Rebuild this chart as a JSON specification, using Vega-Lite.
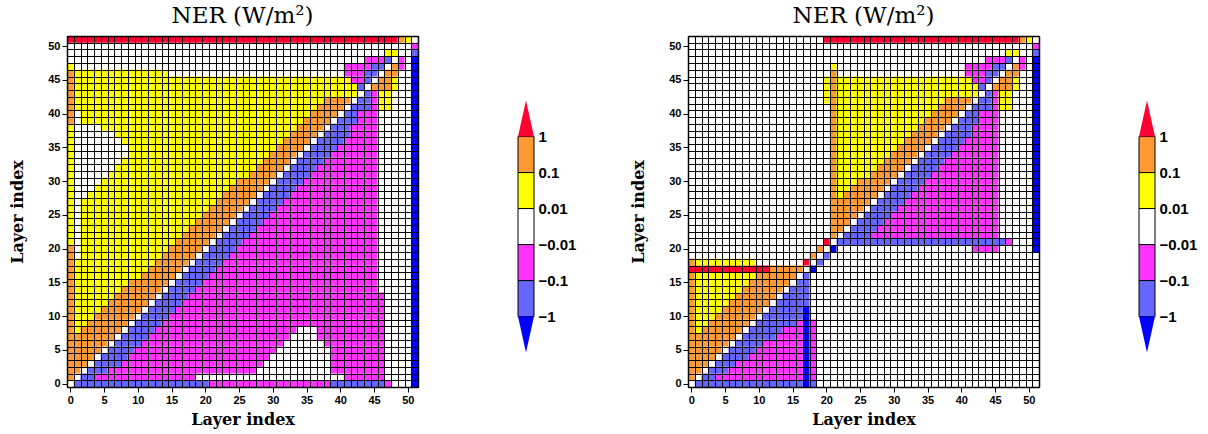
{
"$schema": "https://vega.github.io/schema/vega-lite/v6.json",
"background": "white",
"padding": {"left": 9, "top": 4, "right": 2, "bottom": 2},
"config": {
  "view": {"stroke": null},
  "axis": {"labelFont": "Liberation Sans", "labelFontWeight": "bold", "labelFontSize": 11, "labelColor": "black", "tickColor": "black", "domainColor": "black", "titleFont": "DejaVu Serif", "titleFontWeight": "bold", "titleFontSize": 16, "titleColor": "black", "labelFlush": false},
  "title": {"font": "DejaVu Serif", "fontSize": 23, "fontWeight": "normal", "color": "black"}
},
"datasets": {
"left": [
{"x":0,"x2":0,"y":1,"y2":20,"c":"O"},{"x":0,"x2":0,"y":21,"y2":38,"c":"Y"},{"x":0,"x2":0,"y":39,"y2":46,"c":"O"},{"x":0,"x2":0,"y":47,"y2":47,"c":"Y"},
{"x":51,"x2":51,"y":0,"y2":48,"c":"B"},{"x":51,"x2":51,"y":49,"y2":49,"c":"L"},{"x":51,"x2":51,"y":50,"y2":50,"c":"M"},
{"x":0,"x2":48,"y":51,"y2":51,"c":"R"},{"x":49,"x2":49,"y":51,"y2":51,"c":"O"},{"x":50,"x2":50,"y":51,"y2":51,"c":"Y"},
{"x":39,"x2":46,"y":2,"y2":5,"c":"M"},{"x":37,"x2":46,"y":7,"y2":8,"c":"M"},
{"x":1,"x2":20,"y":0,"y2":0,"c":"L"},{"x":21,"x2":38,"y":0,"y2":0,"c":"M"},{"x":39,"x2":46,"y":0,"y2":0,"c":"L"},{"x":47,"x2":47,"y":0,"y2":0,"c":"M"},
{"x":2,"x2":3,"y":1,"y2":1,"c":"L"},{"x":4,"x2":18,"y":1,"y2":1,"c":"M"},{"x":41,"x2":46,"y":1,"y2":1,"c":"M"},
{"x":1,"x2":1,"y":2,"y2":2,"c":"O"},{"x":3,"x2":5,"y":2,"y2":2,"c":"L"},{"x":6,"x2":27,"y":2,"y2":2,"c":"M"},
{"x":1,"x2":2,"y":3,"y2":3,"c":"O"},{"x":4,"x2":7,"y":3,"y2":3,"c":"L"},{"x":8,"x2":28,"y":3,"y2":3,"c":"M"},
{"x":1,"x2":3,"y":4,"y2":4,"c":"O"},{"x":5,"x2":8,"y":4,"y2":4,"c":"L"},{"x":9,"x2":29,"y":4,"y2":4,"c":"M"},
{"x":1,"x2":4,"y":5,"y2":5,"c":"O"},{"x":6,"x2":9,"y":5,"y2":5,"c":"L"},{"x":10,"x2":30,"y":5,"y2":5,"c":"M"},
{"x":1,"x2":5,"y":6,"y2":6,"c":"O"},{"x":7,"x2":10,"y":6,"y2":6,"c":"L"},{"x":11,"x2":31,"y":6,"y2":6,"c":"M"},{"x":38,"x2":46,"y":6,"y2":6,"c":"M"},
{"x":1,"x2":6,"y":7,"y2":7,"c":"O"},{"x":8,"x2":11,"y":7,"y2":7,"c":"L"},{"x":12,"x2":32,"y":7,"y2":7,"c":"M"},
{"x":1,"x2":1,"y":8,"y2":8,"c":"Y"},{"x":2,"x2":7,"y":8,"y2":8,"c":"O"},{"x":9,"x2":12,"y":8,"y2":8,"c":"L"},{"x":13,"x2":33,"y":8,"y2":8,"c":"M"},
{"x":1,"x2":2,"y":9,"y2":9,"c":"Y"},{"x":3,"x2":8,"y":9,"y2":9,"c":"O"},{"x":10,"x2":13,"y":9,"y2":9,"c":"L"},{"x":14,"x2":46,"y":9,"y2":9,"c":"M"},
{"x":1,"x2":3,"y":10,"y2":10,"c":"Y"},{"x":4,"x2":9,"y":10,"y2":10,"c":"O"},{"x":11,"x2":14,"y":10,"y2":10,"c":"L"},{"x":15,"x2":46,"y":10,"y2":10,"c":"M"},
{"x":1,"x2":4,"y":11,"y2":11,"c":"Y"},{"x":5,"x2":10,"y":11,"y2":11,"c":"O"},{"x":12,"x2":15,"y":11,"y2":11,"c":"L"},{"x":16,"x2":46,"y":11,"y2":11,"c":"M"},
{"x":1,"x2":5,"y":12,"y2":12,"c":"Y"},{"x":6,"x2":11,"y":12,"y2":12,"c":"O"},{"x":13,"x2":16,"y":12,"y2":12,"c":"L"},{"x":17,"x2":46,"y":12,"y2":12,"c":"M"},
{"x":1,"x2":6,"y":13,"y2":13,"c":"Y"},{"x":7,"x2":12,"y":13,"y2":13,"c":"O"},{"x":14,"x2":17,"y":13,"y2":13,"c":"L"},{"x":18,"x2":46,"y":13,"y2":13,"c":"M"},
{"x":1,"x2":7,"y":14,"y2":14,"c":"Y"},{"x":8,"x2":13,"y":14,"y2":14,"c":"O"},{"x":15,"x2":18,"y":14,"y2":14,"c":"L"},{"x":19,"x2":45,"y":14,"y2":14,"c":"M"},
{"x":1,"x2":8,"y":15,"y2":15,"c":"Y"},{"x":9,"x2":14,"y":15,"y2":15,"c":"O"},{"x":16,"x2":19,"y":15,"y2":15,"c":"L"},{"x":20,"x2":45,"y":15,"y2":15,"c":"M"},
{"x":1,"x2":10,"y":16,"y2":16,"c":"Y"},{"x":11,"x2":15,"y":16,"y2":16,"c":"O"},{"x":17,"x2":20,"y":16,"y2":16,"c":"L"},{"x":21,"x2":45,"y":16,"y2":16,"c":"M"},
{"x":1,"x2":11,"y":17,"y2":17,"c":"Y"},{"x":12,"x2":16,"y":17,"y2":17,"c":"O"},{"x":18,"x2":21,"y":17,"y2":17,"c":"L"},{"x":22,"x2":45,"y":17,"y2":17,"c":"M"},
{"x":1,"x2":12,"y":18,"y2":18,"c":"Y"},{"x":13,"x2":17,"y":18,"y2":18,"c":"O"},{"x":19,"x2":22,"y":18,"y2":18,"c":"L"},{"x":23,"x2":45,"y":18,"y2":18,"c":"M"},
{"x":2,"x2":13,"y":19,"y2":19,"c":"Y"},{"x":14,"x2":18,"y":19,"y2":19,"c":"O"},{"x":20,"x2":23,"y":19,"y2":19,"c":"L"},{"x":24,"x2":45,"y":19,"y2":19,"c":"M"},
{"x":2,"x2":14,"y":20,"y2":20,"c":"Y"},{"x":15,"x2":19,"y":20,"y2":20,"c":"O"},{"x":21,"x2":24,"y":20,"y2":20,"c":"L"},{"x":25,"x2":45,"y":20,"y2":20,"c":"M"},
{"x":2,"x2":15,"y":21,"y2":21,"c":"Y"},{"x":16,"x2":20,"y":21,"y2":21,"c":"O"},{"x":22,"x2":25,"y":21,"y2":21,"c":"L"},{"x":26,"x2":45,"y":21,"y2":21,"c":"M"},
{"x":2,"x2":16,"y":22,"y2":22,"c":"Y"},{"x":17,"x2":21,"y":22,"y2":22,"c":"O"},{"x":23,"x2":26,"y":22,"y2":22,"c":"L"},{"x":27,"x2":45,"y":22,"y2":22,"c":"M"},
{"x":2,"x2":17,"y":23,"y2":23,"c":"Y"},{"x":18,"x2":22,"y":23,"y2":23,"c":"O"},{"x":24,"x2":27,"y":23,"y2":23,"c":"L"},{"x":28,"x2":45,"y":23,"y2":23,"c":"M"},
{"x":2,"x2":18,"y":24,"y2":24,"c":"Y"},{"x":19,"x2":23,"y":24,"y2":24,"c":"O"},{"x":25,"x2":28,"y":24,"y2":24,"c":"L"},{"x":29,"x2":45,"y":24,"y2":24,"c":"M"},
{"x":2,"x2":19,"y":25,"y2":25,"c":"Y"},{"x":20,"x2":24,"y":25,"y2":25,"c":"O"},{"x":26,"x2":29,"y":25,"y2":25,"c":"L"},{"x":30,"x2":45,"y":25,"y2":25,"c":"M"},
{"x":2,"x2":20,"y":26,"y2":26,"c":"Y"},{"x":21,"x2":25,"y":26,"y2":26,"c":"O"},{"x":27,"x2":30,"y":26,"y2":26,"c":"L"},{"x":31,"x2":45,"y":26,"y2":26,"c":"M"},
{"x":2,"x2":21,"y":27,"y2":27,"c":"Y"},{"x":22,"x2":26,"y":27,"y2":27,"c":"O"},{"x":28,"x2":31,"y":27,"y2":27,"c":"L"},{"x":32,"x2":45,"y":27,"y2":27,"c":"M"},
{"x":3,"x2":22,"y":28,"y2":28,"c":"Y"},{"x":23,"x2":27,"y":28,"y2":28,"c":"O"},{"x":29,"x2":32,"y":28,"y2":28,"c":"L"},{"x":33,"x2":45,"y":28,"y2":28,"c":"M"},
{"x":4,"x2":23,"y":29,"y2":29,"c":"Y"},{"x":24,"x2":28,"y":29,"y2":29,"c":"O"},{"x":30,"x2":33,"y":29,"y2":29,"c":"L"},{"x":34,"x2":45,"y":29,"y2":29,"c":"M"},
{"x":5,"x2":24,"y":30,"y2":30,"c":"Y"},{"x":25,"x2":29,"y":30,"y2":30,"c":"O"},{"x":31,"x2":34,"y":30,"y2":30,"c":"L"},{"x":35,"x2":45,"y":30,"y2":30,"c":"M"},
{"x":6,"x2":26,"y":31,"y2":31,"c":"Y"},{"x":27,"x2":30,"y":31,"y2":31,"c":"O"},{"x":32,"x2":35,"y":31,"y2":31,"c":"L"},{"x":36,"x2":45,"y":31,"y2":31,"c":"M"},
{"x":7,"x2":27,"y":32,"y2":32,"c":"Y"},{"x":28,"x2":31,"y":32,"y2":32,"c":"O"},{"x":33,"x2":36,"y":32,"y2":32,"c":"L"},{"x":37,"x2":45,"y":32,"y2":32,"c":"M"},
{"x":8,"x2":28,"y":33,"y2":33,"c":"Y"},{"x":29,"x2":32,"y":33,"y2":33,"c":"O"},{"x":34,"x2":37,"y":33,"y2":33,"c":"L"},{"x":38,"x2":45,"y":33,"y2":33,"c":"M"},
{"x":9,"x2":29,"y":34,"y2":34,"c":"Y"},{"x":30,"x2":33,"y":34,"y2":34,"c":"O"},{"x":35,"x2":38,"y":34,"y2":34,"c":"L"},{"x":39,"x2":45,"y":34,"y2":34,"c":"M"},
{"x":9,"x2":30,"y":35,"y2":35,"c":"Y"},{"x":31,"x2":34,"y":35,"y2":35,"c":"O"},{"x":36,"x2":39,"y":35,"y2":35,"c":"L"},{"x":40,"x2":45,"y":35,"y2":35,"c":"M"},
{"x":8,"x2":31,"y":36,"y2":36,"c":"Y"},{"x":32,"x2":35,"y":36,"y2":36,"c":"O"},{"x":37,"x2":40,"y":36,"y2":36,"c":"L"},{"x":41,"x2":45,"y":36,"y2":36,"c":"M"},
{"x":7,"x2":32,"y":37,"y2":37,"c":"Y"},{"x":33,"x2":36,"y":37,"y2":37,"c":"O"},{"x":38,"x2":41,"y":37,"y2":37,"c":"L"},{"x":42,"x2":45,"y":37,"y2":37,"c":"M"},
{"x":5,"x2":33,"y":38,"y2":38,"c":"Y"},{"x":34,"x2":37,"y":38,"y2":38,"c":"O"},{"x":39,"x2":41,"y":38,"y2":38,"c":"L"},{"x":42,"x2":45,"y":38,"y2":38,"c":"M"},
{"x":2,"x2":34,"y":39,"y2":39,"c":"Y"},{"x":35,"x2":38,"y":39,"y2":39,"c":"O"},{"x":40,"x2":42,"y":39,"y2":39,"c":"L"},{"x":43,"x2":45,"y":39,"y2":39,"c":"M"},
{"x":2,"x2":35,"y":40,"y2":40,"c":"Y"},{"x":36,"x2":39,"y":40,"y2":40,"c":"O"},{"x":41,"x2":42,"y":40,"y2":40,"c":"L"},{"x":43,"x2":45,"y":40,"y2":40,"c":"M"},
{"x":1,"x2":36,"y":41,"y2":41,"c":"Y"},{"x":37,"x2":40,"y":41,"y2":41,"c":"O"},{"x":42,"x2":44,"y":41,"y2":41,"c":"L"},{"x":45,"x2":45,"y":41,"y2":41,"c":"M"},{"x":46,"x2":47,"y":41,"y2":41,"c":"Y"},
{"x":1,"x2":37,"y":42,"y2":42,"c":"Y"},{"x":38,"x2":41,"y":42,"y2":42,"c":"O"},{"x":43,"x2":44,"y":42,"y2":42,"c":"L"},{"x":45,"x2":45,"y":42,"y2":42,"c":"M"},{"x":46,"x2":47,"y":42,"y2":42,"c":"Y"},
{"x":1,"x2":42,"y":43,"y2":43,"c":"Y"},{"x":44,"x2":44,"y":43,"y2":43,"c":"L"},{"x":45,"x2":45,"y":43,"y2":43,"c":"M"},{"x":46,"x2":47,"y":43,"y2":43,"c":"Y"},
{"x":1,"x2":42,"y":44,"y2":44,"c":"Y"},{"x":43,"x2":43,"y":44,"y2":44,"c":"L"},{"x":45,"x2":47,"y":44,"y2":44,"c":"O"},{"x":48,"x2":48,"y":44,"y2":44,"c":"Y"},
{"x":1,"x2":41,"y":45,"y2":45,"c":"Y"},{"x":42,"x2":43,"y":45,"y2":45,"c":"M"},{"x":44,"x2":44,"y":45,"y2":45,"c":"L"},{"x":46,"x2":47,"y":45,"y2":45,"c":"O"},{"x":48,"x2":48,"y":45,"y2":45,"c":"Y"},
{"x":1,"x2":14,"y":46,"y2":46,"c":"Y"},{"x":41,"x2":43,"y":46,"y2":46,"c":"M"},{"x":44,"x2":45,"y":46,"y2":46,"c":"L"},{"x":47,"x2":48,"y":46,"y2":46,"c":"O"},
{"x":41,"x2":44,"y":47,"y2":47,"c":"M"},{"x":45,"x2":46,"y":47,"y2":47,"c":"L"},{"x":48,"x2":48,"y":47,"y2":47,"c":"O"},{"x":49,"x2":49,"y":47,"y2":47,"c":"M"},
{"x":44,"x2":46,"y":48,"y2":48,"c":"M"},{"x":47,"x2":47,"y":48,"y2":48,"c":"L"},{"x":49,"x2":49,"y":48,"y2":48,"c":"M"},
{"x":47,"x2":48,"y":49,"y2":49,"c":"Y"}
],
"right": [
{"x":51,"x2":51,"y":20,"y2":48,"c":"B"},{"x":51,"x2":51,"y":49,"y2":49,"c":"L"},{"x":51,"x2":51,"y":50,"y2":50,"c":"M"},
{"x":20,"x2":48,"y":51,"y2":51,"c":"R"},{"x":49,"x2":49,"y":51,"y2":51,"c":"O"},{"x":50,"x2":50,"y":51,"y2":51,"c":"Y"},
{"x":21,"x2":21,"y":22,"y2":46,"c":"O"},{"x":21,"x2":21,"y":47,"y2":47,"c":"Y"},{"x":20,"x2":20,"y":42,"y2":45,"c":"Y"},
{"x":0,"x2":0,"y":1,"y2":16,"c":"O"},{"x":17,"x2":17,"y":0,"y2":11,"c":"B"},{"x":17,"x2":17,"y":12,"y2":16,"c":"L"},{"x":18,"x2":18,"y":1,"y2":9,"c":"M"},
{"x":1,"x2":16,"y":0,"y2":0,"c":"L"},{"x":18,"x2":18,"y":0,"y2":0,"c":"L"},
{"x":2,"x2":3,"y":1,"y2":1,"c":"L"},{"x":4,"x2":16,"y":1,"y2":1,"c":"M"},
{"x":1,"x2":1,"y":2,"y2":2,"c":"O"},{"x":3,"x2":5,"y":2,"y2":2,"c":"L"},{"x":6,"x2":16,"y":2,"y2":2,"c":"M"},
{"x":1,"x2":2,"y":3,"y2":3,"c":"O"},{"x":4,"x2":6,"y":3,"y2":3,"c":"L"},{"x":7,"x2":16,"y":3,"y2":3,"c":"M"},
{"x":1,"x2":3,"y":4,"y2":4,"c":"O"},{"x":5,"x2":8,"y":4,"y2":4,"c":"L"},{"x":9,"x2":16,"y":4,"y2":4,"c":"M"},
{"x":1,"x2":4,"y":5,"y2":5,"c":"O"},{"x":6,"x2":9,"y":5,"y2":5,"c":"L"},{"x":10,"x2":16,"y":5,"y2":5,"c":"M"},
{"x":1,"x2":5,"y":6,"y2":6,"c":"O"},{"x":7,"x2":10,"y":6,"y2":6,"c":"L"},{"x":11,"x2":16,"y":6,"y2":6,"c":"M"},
{"x":1,"x2":6,"y":7,"y2":7,"c":"O"},{"x":8,"x2":12,"y":7,"y2":7,"c":"L"},{"x":13,"x2":16,"y":7,"y2":7,"c":"M"},
{"x":1,"x2":1,"y":8,"y2":8,"c":"Y"},{"x":2,"x2":7,"y":8,"y2":8,"c":"O"},{"x":9,"x2":13,"y":8,"y2":8,"c":"L"},{"x":14,"x2":16,"y":8,"y2":8,"c":"M"},
{"x":1,"x2":2,"y":9,"y2":9,"c":"Y"},{"x":3,"x2":8,"y":9,"y2":9,"c":"O"},{"x":10,"x2":15,"y":9,"y2":9,"c":"L"},{"x":16,"x2":16,"y":9,"y2":9,"c":"M"},
{"x":1,"x2":3,"y":10,"y2":10,"c":"Y"},{"x":4,"x2":9,"y":10,"y2":10,"c":"O"},{"x":11,"x2":16,"y":10,"y2":10,"c":"L"},
{"x":1,"x2":4,"y":11,"y2":11,"c":"Y"},{"x":5,"x2":10,"y":11,"y2":11,"c":"O"},{"x":12,"x2":16,"y":11,"y2":11,"c":"L"},
{"x":1,"x2":5,"y":12,"y2":12,"c":"Y"},{"x":6,"x2":11,"y":12,"y2":12,"c":"O"},{"x":13,"x2":16,"y":12,"y2":12,"c":"L"},
{"x":1,"x2":6,"y":13,"y2":13,"c":"Y"},{"x":7,"x2":12,"y":13,"y2":13,"c":"O"},{"x":14,"x2":16,"y":13,"y2":13,"c":"L"},
{"x":1,"x2":7,"y":14,"y2":14,"c":"Y"},{"x":8,"x2":13,"y":14,"y2":14,"c":"O"},{"x":15,"x2":16,"y":14,"y2":14,"c":"L"},
{"x":1,"x2":8,"y":15,"y2":15,"c":"Y"},{"x":9,"x2":14,"y":15,"y2":15,"c":"O"},{"x":16,"x2":16,"y":15,"y2":15,"c":"L"},
{"x":1,"x2":9,"y":16,"y2":16,"c":"Y"},{"x":10,"x2":15,"y":16,"y2":16,"c":"O"},
{"x":0,"x2":11,"y":17,"y2":17,"c":"R"},{"x":12,"x2":16,"y":17,"y2":17,"c":"O"},{"x":18,"x2":18,"y":17,"y2":17,"c":"B"},
{"x":0,"x2":0,"y":18,"y2":18,"c":"O"},{"x":1,"x2":9,"y":18,"y2":18,"c":"Y"},{"x":17,"x2":17,"y":18,"y2":18,"c":"R"},{"x":19,"x2":19,"y":18,"y2":18,"c":"L"},
{"x":18,"x2":18,"y":19,"y2":19,"c":"O"},{"x":20,"x2":20,"y":19,"y2":19,"c":"L"},
{"x":19,"x2":19,"y":20,"y2":20,"c":"O"},{"x":21,"x2":21,"y":20,"y2":20,"c":"B"},{"x":42,"x2":45,"y":20,"y2":20,"c":"M"},
{"x":20,"x2":20,"y":21,"y2":21,"c":"R"},{"x":22,"x2":46,"y":21,"y2":21,"c":"L"},{"x":47,"x2":47,"y":21,"y2":21,"c":"M"},
{"x":23,"x2":26,"y":22,"y2":22,"c":"L"},{"x":27,"x2":45,"y":22,"y2":22,"c":"M"},
{"x":22,"x2":22,"y":23,"y2":23,"c":"O"},{"x":24,"x2":27,"y":23,"y2":23,"c":"L"},{"x":28,"x2":45,"y":23,"y2":23,"c":"M"},
{"x":22,"x2":23,"y":24,"y2":24,"c":"O"},{"x":25,"x2":28,"y":24,"y2":24,"c":"L"},{"x":29,"x2":45,"y":24,"y2":24,"c":"M"},
{"x":22,"x2":24,"y":25,"y2":25,"c":"O"},{"x":26,"x2":29,"y":25,"y2":25,"c":"L"},{"x":30,"x2":45,"y":25,"y2":25,"c":"M"},
{"x":22,"x2":25,"y":26,"y2":26,"c":"O"},{"x":27,"x2":30,"y":26,"y2":26,"c":"L"},{"x":31,"x2":45,"y":26,"y2":26,"c":"M"},
{"x":22,"x2":26,"y":27,"y2":27,"c":"O"},{"x":28,"x2":31,"y":27,"y2":27,"c":"L"},{"x":32,"x2":45,"y":27,"y2":27,"c":"M"},
{"x":22,"x2":22,"y":28,"y2":28,"c":"Y"},{"x":23,"x2":27,"y":28,"y2":28,"c":"O"},{"x":29,"x2":32,"y":28,"y2":28,"c":"L"},{"x":33,"x2":45,"y":28,"y2":28,"c":"M"},
{"x":22,"x2":23,"y":29,"y2":29,"c":"Y"},{"x":24,"x2":28,"y":29,"y2":29,"c":"O"},{"x":30,"x2":33,"y":29,"y2":29,"c":"L"},{"x":34,"x2":45,"y":29,"y2":29,"c":"M"},
{"x":22,"x2":24,"y":30,"y2":30,"c":"Y"},{"x":25,"x2":29,"y":30,"y2":30,"c":"O"},{"x":31,"x2":34,"y":30,"y2":30,"c":"L"},{"x":35,"x2":45,"y":30,"y2":30,"c":"M"},
{"x":22,"x2":26,"y":31,"y2":31,"c":"Y"},{"x":27,"x2":30,"y":31,"y2":31,"c":"O"},{"x":32,"x2":35,"y":31,"y2":31,"c":"L"},{"x":36,"x2":45,"y":31,"y2":31,"c":"M"},
{"x":22,"x2":27,"y":32,"y2":32,"c":"Y"},{"x":28,"x2":31,"y":32,"y2":32,"c":"O"},{"x":33,"x2":36,"y":32,"y2":32,"c":"L"},{"x":37,"x2":45,"y":32,"y2":32,"c":"M"},
{"x":22,"x2":28,"y":33,"y2":33,"c":"Y"},{"x":29,"x2":32,"y":33,"y2":33,"c":"O"},{"x":34,"x2":37,"y":33,"y2":33,"c":"L"},{"x":38,"x2":45,"y":33,"y2":33,"c":"M"},
{"x":22,"x2":29,"y":34,"y2":34,"c":"Y"},{"x":30,"x2":33,"y":34,"y2":34,"c":"O"},{"x":35,"x2":38,"y":34,"y2":34,"c":"L"},{"x":39,"x2":45,"y":34,"y2":34,"c":"M"},
{"x":22,"x2":30,"y":35,"y2":35,"c":"Y"},{"x":31,"x2":34,"y":35,"y2":35,"c":"O"},{"x":36,"x2":39,"y":35,"y2":35,"c":"L"},{"x":40,"x2":45,"y":35,"y2":35,"c":"M"},
{"x":22,"x2":31,"y":36,"y2":36,"c":"Y"},{"x":32,"x2":35,"y":36,"y2":36,"c":"O"},{"x":37,"x2":40,"y":36,"y2":36,"c":"L"},{"x":41,"x2":45,"y":36,"y2":36,"c":"M"},
{"x":22,"x2":32,"y":37,"y2":37,"c":"Y"},{"x":33,"x2":36,"y":37,"y2":37,"c":"O"},{"x":38,"x2":41,"y":37,"y2":37,"c":"L"},{"x":42,"x2":45,"y":37,"y2":37,"c":"M"},
{"x":22,"x2":33,"y":38,"y2":38,"c":"Y"},{"x":34,"x2":37,"y":38,"y2":38,"c":"O"},{"x":39,"x2":41,"y":38,"y2":38,"c":"L"},{"x":42,"x2":45,"y":38,"y2":38,"c":"M"},
{"x":22,"x2":34,"y":39,"y2":39,"c":"Y"},{"x":35,"x2":38,"y":39,"y2":39,"c":"O"},{"x":40,"x2":42,"y":39,"y2":39,"c":"L"},{"x":43,"x2":45,"y":39,"y2":39,"c":"M"},
{"x":22,"x2":35,"y":40,"y2":40,"c":"Y"},{"x":36,"x2":39,"y":40,"y2":40,"c":"O"},{"x":41,"x2":42,"y":40,"y2":40,"c":"L"},{"x":43,"x2":45,"y":40,"y2":40,"c":"M"},
{"x":22,"x2":36,"y":41,"y2":41,"c":"Y"},{"x":37,"x2":40,"y":41,"y2":41,"c":"O"},{"x":42,"x2":44,"y":41,"y2":41,"c":"L"},{"x":45,"x2":45,"y":41,"y2":41,"c":"M"},{"x":46,"x2":47,"y":41,"y2":41,"c":"Y"},
{"x":22,"x2":37,"y":42,"y2":42,"c":"Y"},{"x":38,"x2":41,"y":42,"y2":42,"c":"O"},{"x":43,"x2":44,"y":42,"y2":42,"c":"L"},{"x":45,"x2":45,"y":42,"y2":42,"c":"M"},{"x":46,"x2":47,"y":42,"y2":42,"c":"Y"},
{"x":22,"x2":42,"y":43,"y2":43,"c":"Y"},{"x":44,"x2":44,"y":43,"y2":43,"c":"L"},{"x":45,"x2":45,"y":43,"y2":43,"c":"M"},{"x":46,"x2":47,"y":43,"y2":43,"c":"Y"},
{"x":22,"x2":42,"y":44,"y2":44,"c":"Y"},{"x":43,"x2":43,"y":44,"y2":44,"c":"L"},{"x":45,"x2":47,"y":44,"y2":44,"c":"O"},{"x":48,"x2":48,"y":44,"y2":44,"c":"Y"},
{"x":22,"x2":41,"y":45,"y2":45,"c":"Y"},{"x":42,"x2":43,"y":45,"y2":45,"c":"M"},{"x":44,"x2":44,"y":45,"y2":45,"c":"L"},{"x":46,"x2":47,"y":45,"y2":45,"c":"O"},{"x":48,"x2":48,"y":45,"y2":45,"c":"Y"},
{"x":41,"x2":43,"y":46,"y2":46,"c":"M"},{"x":44,"x2":45,"y":46,"y2":46,"c":"L"},{"x":47,"x2":48,"y":46,"y2":46,"c":"O"},
{"x":41,"x2":44,"y":47,"y2":47,"c":"M"},{"x":45,"x2":46,"y":47,"y2":47,"c":"L"},{"x":48,"x2":48,"y":47,"y2":47,"c":"O"},{"x":49,"x2":49,"y":47,"y2":47,"c":"M"},
{"x":44,"x2":46,"y":48,"y2":48,"c":"M"},{"x":47,"x2":47,"y":48,"y2":48,"c":"L"},{"x":49,"x2":49,"y":48,"y2":48,"c":"M"},
{"x":47,"x2":48,"y":49,"y2":49,"c":"Y"}
],
"bar": [{"c":"R"},{"c":"O"},{"c":"Y"},{"c":"W"},{"c":"M"},{"c":"L"},{"c":"B"}]
},
"hconcat": [
{"spacing": 99, "hconcat": [
 {"width": 351, "height": 351,
  "title": {"text": "NER (W/m²)", "frame": "group", "anchor": "middle", "offset": 8.5},
  "data": {"name": "left"},
  "layer": [
   {"mark": {"type": "rect", "xOffset": -3.375, "x2Offset": 3.375, "yOffset": 3.375, "y2Offset": -3.375},
    "encoding": {
     "x": {"field": "x", "type": "quantitative", "scale": {"domain": [-0.5, 51.5], "nice": false, "zero": false},
           "axis": {"values": [0,5,10,15,20,25,30,35,40,45,50], "title": "Layer index", "grid": false, "tickSize": 5, "labelPadding": 2, "titlePadding": 6, "domainWidth": 1.5, "zindex": 1}},
     "x2": {"field": "x2"},
     "y": {"field": "y", "type": "quantitative", "scale": {"domain": [-0.5, 51.5], "nice": false, "zero": false},
           "axis": {"values": [0,5,10,15,20,25,30,35,40,45,50], "title": "Layer index", "grid": false, "tickSize": 5, "labelPadding": 2, "titlePadding": 22, "domainWidth": 1.5, "zindex": 1}},
     "y2": {"field": "y2"},
     "color": {"field": "c", "type": "nominal", "scale": {"domain": ["R","O","Y","W","M","L","B"], "range": ["#FF0033","#FF9933","#FFFF00","#FFFFFF","#FF33FF","#6666FF","#0000FF"]}, "legend": null}
    }},
   {"mark": {"type": "rect", "opacity": 0},
    "encoding": {
     "x": {"field": "x", "type": "quantitative", "axis": {"orient": "top", "values": [-0.5,0.5,1.5,2.5,3.5,4.5,5.5,6.5,7.5,8.5,9.5,10.5,11.5,12.5,13.5,14.5,15.5,16.5,17.5,18.5,19.5,20.5,21.5,22.5,23.5,24.5,25.5,26.5,27.5,28.5,29.5,30.5,31.5,32.5,33.5,34.5,35.5,36.5,37.5,38.5,39.5,40.5,41.5,42.5,43.5,44.5,45.5,46.5,47.5,48.5,49.5,50.5,51.5], "grid": true, "gridColor": "black", "gridWidth": 1, "gridOpacity": 1, "labels": false, "ticks": false, "domain": true, "domainWidth": 1.5, "title": null, "zindex": 1, "minExtent": 0, "maxExtent": 0}},
     "x2": {"field": "x2"},
     "y": {"field": "y", "type": "quantitative", "axis": {"orient": "right", "values": [-0.5,0.5,1.5,2.5,3.5,4.5,5.5,6.5,7.5,8.5,9.5,10.5,11.5,12.5,13.5,14.5,15.5,16.5,17.5,18.5,19.5,20.5,21.5,22.5,23.5,24.5,25.5,26.5,27.5,28.5,29.5,30.5,31.5,32.5,33.5,34.5,35.5,36.5,37.5,38.5,39.5,40.5,41.5,42.5,43.5,44.5,45.5,46.5,47.5,48.5,49.5,50.5,51.5], "grid": true, "gridColor": "black", "gridWidth": 1, "gridOpacity": 1, "labels": false, "ticks": false, "domain": true, "domainWidth": 1.5, "title": null, "zindex": 1, "minExtent": 0, "maxExtent": 0}},
     "y2": {"field": "y2"}
    }}
  ],
  "resolve": {"axis": {"x": "independent", "y": "independent"}}
 },
 {"width": 16, "height": 316.6,
  "data": {"name": "bar"},
  "layer": [
   {"transform": [{"filter": "datum.c != 'R' && datum.c != 'B'"}],
    "mark": {"type": "rect", "stroke": "black", "strokeWidth": 1},
    "encoding": {
     "y": {"field": "c", "type": "nominal", "scale": {"domain": ["R","O","Y","W","M","L","B"], "paddingInner": 0, "paddingOuter": 0.897, "align": 1},
           "axis": {"orient": "right", "title": null, "ticks": false, "domain": false, "grid": false, "labelOffset": -18, "labelPadding": 4, "labelFontSize": 15, "labelAlign": "left", "labelBaseline": "middle", "labelExpr": "datum.value == 'O' ? '1' : datum.value == 'Y' ? '0.1' : datum.value == 'W' ? '0.01' : datum.value == 'M' ? '\u22120.01' : datum.value == 'L' ? '\u22120.1' : datum.value == 'B' ? '\u22121' : ''"}},
     "color": {"field": "c", "type": "nominal", "scale": {"domain": ["R","O","Y","W","M","L","B"], "range": ["#FF0033","#FF9933","#FFFF00","#FFFFFF","#FF33FF","#6666FF","#0000FF"]}, "legend": null}
    }},
   {"transform": [{"filter": "datum.c == 'R' || datum.c == 'B'"}],
    "mark": {"type": "point", "filled": true, "size": 1296, "opacity": 1, "strokeWidth": 0},
    "encoding": {
     "y": {"field": "c", "type": "nominal"},
     "shape": {"field": "c", "type": "nominal", "scale": {"domain": ["R","B"], "range": ["M-0.444,1L0,-1L0.444,1Z", "M-0.444,-1L0,1L0.444,-1Z"]}, "legend": null},
     "color": {"field": "c", "type": "nominal", "scale": {"domain": ["R","O","Y","W","M","L","B"], "range": ["#FF0033","#FF9933","#FFFF00","#FFFFFF","#FF33FF","#6666FF","#0000FF"]}, "legend": null}
    }}
  ]
 }
]},
{"spacing": 99, "hconcat": [
 {"width": 351, "height": 351,
  "title": {"text": "NER (W/m²)", "frame": "group", "anchor": "middle", "offset": 8.5},
  "data": {"name": "right"},
  "layer": [
   {"mark": {"type": "rect", "xOffset": -3.375, "x2Offset": 3.375, "yOffset": 3.375, "y2Offset": -3.375},
    "encoding": {
     "x": {"field": "x", "type": "quantitative", "scale": {"domain": [-0.5, 51.5], "nice": false, "zero": false},
           "axis": {"values": [0,5,10,15,20,25,30,35,40,45,50], "title": "Layer index", "grid": false, "tickSize": 5, "labelPadding": 2, "titlePadding": 6, "domainWidth": 1.5, "zindex": 1}},
     "x2": {"field": "x2"},
     "y": {"field": "y", "type": "quantitative", "scale": {"domain": [-0.5, 51.5], "nice": false, "zero": false},
           "axis": {"values": [0,5,10,15,20,25,30,35,40,45,50], "title": "Layer index", "grid": false, "tickSize": 5, "labelPadding": 2, "titlePadding": 22, "domainWidth": 1.5, "zindex": 1}},
     "y2": {"field": "y2"},
     "color": {"field": "c", "type": "nominal", "scale": {"domain": ["R","O","Y","W","M","L","B"], "range": ["#FF0033","#FF9933","#FFFF00","#FFFFFF","#FF33FF","#6666FF","#0000FF"]}, "legend": null}
    }},
   {"mark": {"type": "rect", "opacity": 0},
    "encoding": {
     "x": {"field": "x", "type": "quantitative", "axis": {"orient": "top", "values": [-0.5,0.5,1.5,2.5,3.5,4.5,5.5,6.5,7.5,8.5,9.5,10.5,11.5,12.5,13.5,14.5,15.5,16.5,17.5,18.5,19.5,20.5,21.5,22.5,23.5,24.5,25.5,26.5,27.5,28.5,29.5,30.5,31.5,32.5,33.5,34.5,35.5,36.5,37.5,38.5,39.5,40.5,41.5,42.5,43.5,44.5,45.5,46.5,47.5,48.5,49.5,50.5,51.5], "grid": true, "gridColor": "black", "gridWidth": 1, "gridOpacity": 1, "labels": false, "ticks": false, "domain": true, "domainWidth": 1.5, "title": null, "zindex": 1, "minExtent": 0, "maxExtent": 0}},
     "x2": {"field": "x2"},
     "y": {"field": "y", "type": "quantitative", "axis": {"orient": "right", "values": [-0.5,0.5,1.5,2.5,3.5,4.5,5.5,6.5,7.5,8.5,9.5,10.5,11.5,12.5,13.5,14.5,15.5,16.5,17.5,18.5,19.5,20.5,21.5,22.5,23.5,24.5,25.5,26.5,27.5,28.5,29.5,30.5,31.5,32.5,33.5,34.5,35.5,36.5,37.5,38.5,39.5,40.5,41.5,42.5,43.5,44.5,45.5,46.5,47.5,48.5,49.5,50.5,51.5], "grid": true, "gridColor": "black", "gridWidth": 1, "gridOpacity": 1, "labels": false, "ticks": false, "domain": true, "domainWidth": 1.5, "title": null, "zindex": 1, "minExtent": 0, "maxExtent": 0}},
     "y2": {"field": "y2"}
    }}
  ],
  "resolve": {"axis": {"x": "independent", "y": "independent"}}
 },
 {"width": 16, "height": 316.6,
  "data": {"name": "bar"},
  "layer": [
   {"transform": [{"filter": "datum.c != 'R' && datum.c != 'B'"}],
    "mark": {"type": "rect", "stroke": "black", "strokeWidth": 1},
    "encoding": {
     "y": {"field": "c", "type": "nominal", "scale": {"domain": ["R","O","Y","W","M","L","B"], "paddingInner": 0, "paddingOuter": 0.897, "align": 1},
           "axis": {"orient": "right", "title": null, "ticks": false, "domain": false, "grid": false, "labelOffset": -18, "labelPadding": 4, "labelFontSize": 15, "labelAlign": "left", "labelBaseline": "middle", "labelExpr": "datum.value == 'O' ? '1' : datum.value == 'Y' ? '0.1' : datum.value == 'W' ? '0.01' : datum.value == 'M' ? '\u22120.01' : datum.value == 'L' ? '\u22120.1' : datum.value == 'B' ? '\u22121' : ''"}},
     "color": {"field": "c", "type": "nominal", "scale": {"domain": ["R","O","Y","W","M","L","B"], "range": ["#FF0033","#FF9933","#FFFF00","#FFFFFF","#FF33FF","#6666FF","#0000FF"]}, "legend": null}
    }},
   {"transform": [{"filter": "datum.c == 'R' || datum.c == 'B'"}],
    "mark": {"type": "point", "filled": true, "size": 1296, "opacity": 1, "strokeWidth": 0},
    "encoding": {
     "y": {"field": "c", "type": "nominal"},
     "shape": {"field": "c", "type": "nominal", "scale": {"domain": ["R","B"], "range": ["M-0.444,1L0,-1L0.444,1Z", "M-0.444,-1L0,1L0.444,-1Z"]}, "legend": null},
     "color": {"field": "c", "type": "nominal", "scale": {"domain": ["R","O","Y","W","M","L","B"], "range": ["#FF0033","#FF9933","#FFFF00","#FFFFFF","#FF33FF","#6666FF","#0000FF"]}, "legend": null}
    }}
  ]
 }
]}
],
"spacing": 54
}
